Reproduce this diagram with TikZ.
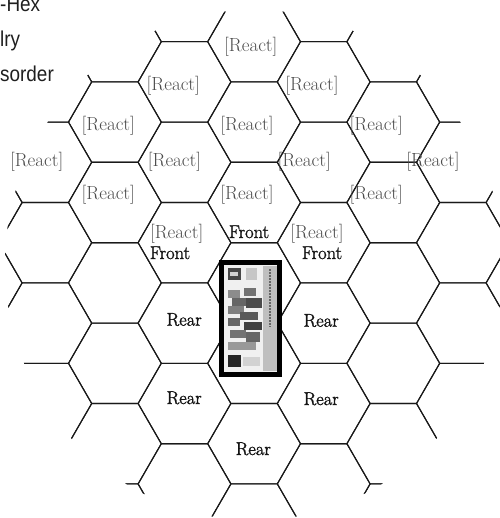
\documentclass[tikz,border=0pt]{standalone}
\usepackage{fontspec}
\newfontfamily\narrowsans[FakeStretch=0.88]{Liberation Sans}
\newfontfamily\heavyserif[FakeBold=1.6]{Latin Modern Roman}
\begin{document}
\begin{tikzpicture}[x=1pt,y=-1pt,
  hexline/.style={line width=1.1pt,black!90,line join=round},
  reactlbl/.style={inner sep=0pt,anchor=base,text=black!70,font=\fontsize{19}{21}\selectfont},
  sidelbl/.style={inner sep=0pt,anchor=base,text=black!92,font=\heavyserif\fontsize{18.5}{20}\selectfont},
  sidetxt/.style={inner sep=0pt,anchor=base west,text=black!88,font=\narrowsans\fontsize{21.5}{24}\selectfont}]
  \useasboundingbox (0,0) rectangle (499,518);

  % 六角格
  \begin{scope}
    \clip (254,265) ellipse [x radius=249pt, y radius=255pt];
    \begin{scope}[x=23.2pt,y=-40.2pt,shift={(-1.1pt,-1.5pt)}]
    \foreach \k in {-1,...,7}{
      \foreach \j in {0,...,7}{
        \pgfmathsetmacro{\cx}{3*\k+2}
        \pgfmathsetmacro{\cy}{2*\j+mod(\k+2,2)}
        \draw[hexline] (\cx-2,\cy) -- ++(1,-1) -- ++(2,0) -- ++(1,1)
          -- ++(-1,1) -- ++(-2,0) -- cycle;
      }
    }
    \end{scope}
  \end{scope}

  % 左上角文字
  \node[sidetxt] (hexword) at (0,11.7) {-Hex};
  \node[sidetxt] (lryword) at (0,46.7) {lry};
  \node[sidetxt] (sorderword) at (0,81.7) {sorder};

  % 算子
  \fill[black] (219,260) rectangle (282,377);
  \fill[gray!12] (224,265) rectangle (277,372);
  \fill[gray!50] (263,266) rectangle (277,371);
  \draw[black!60,line width=1.2pt,dash pattern=on 1.5pt off 1.5pt] (270,269) -- (270,327);
  \fill[black!72] (227.5,268) rectangle (240.5,280);
  \fill[gray!35] (230,272) rectangle (238,276);
  \fill[gray!45] (246,268) rectangle (257,280);
  \foreach \xa/\ya/\xb/\yb/\tone in {228/290/240/298/45, 244/288/256/296/55,
      232/298/246/306/60, 246/298/262/308/70, 228/306/244/314/50,
      240/312/258/320/65, 228/318/240/326/60, 244/322/262/330/75,
      230/330/246/338/55, 246/332/260/342/60, 228/342/256/350/40}
    \fill[black!\tone] (\xa,\ya) rectangle (\xb,\yb);
  \fill[black!85] (227.5,355) rectangle (240.5,367);
  \fill[gray!35] (243,357) rectangle (260,366);

  % 反应
  \node[reactlbl] (react1) at (250.8,51.7) {[React]};
  \node[reactlbl] (react2) at (173.3,90.7) {[React]};
  \node[reactlbl] (react3) at (312,90.7) {[React]};
  \node[reactlbl] (react4) at (108.3,131) {[React]};
  \node[reactlbl] (react5) at (247,131) {[React]};
  \node[reactlbl] (react6) at (376.3,131) {[React]};
  \node[reactlbl] (react7) at (36.7,167) {[React]};
  \node[reactlbl] (react8) at (174.5,167) {[React]};
  \node[reactlbl] (react9) at (304.2,167) {[React]};
  \node[reactlbl] (react10) at (433,167) {[React]};
  \node[reactlbl] (react11) at (108.3,200) {[React]};
  \node[reactlbl] (react12) at (247,200) {[React]};
  \node[reactlbl] (react13) at (376.3,200) {[React]};
  \node[reactlbl] (react14) at (176.7,238.3) {[React]};
  \node[reactlbl] (react15) at (317,238.3) {[React]};

  % 前后
  \node[sidelbl] (front1) at (170,259) {Front};
  \node[sidelbl] (front2) at (249,238) {Front};
  \node[sidelbl] (front3) at (322,259) {Front};
  \node[sidelbl] (rear1) at (184.2,325.7) {Rear};
  \node[sidelbl] (rear2) at (184.2,404) {Rear};
  \node[sidelbl] (rear3) at (321.2,326.7) {Rear};
  \node[sidelbl] (rear4) at (321.2,405) {Rear};
  \node[sidelbl] (rear5) at (253.3,455) {Rear};
\end{tikzpicture}
\end{document}
